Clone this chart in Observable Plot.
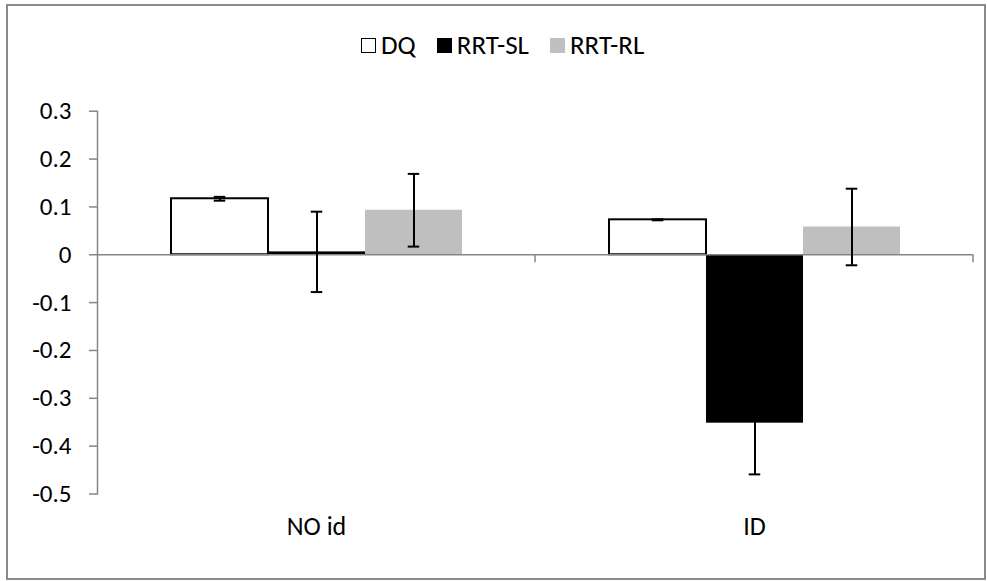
<!DOCTYPE html>
<html>
<head>
<meta charset="utf-8">
<script src="https://cdn.jsdelivr.net/npm/d3@7"></script>
<script src="https://cdn.jsdelivr.net/npm/@observablehq/plot@0.6"></script>
<style>
  body { margin: 0; background: #fff; }
  #wrap { position: relative; width: 987px; height: 581px; font-family: Calibri, Carlito, "Open Sans", sans-serif; color: #000; overflow: hidden; }
  #border { position: absolute; left: 6px; top: 4px; width: 980px; height: 576px; border: 2px solid #898989; box-sizing: border-box; }
  #legend { position: absolute; left: 361px; top: 30px; display: flex; align-items: center; font-size: 27px; line-height: 30px; }
  .item { display: flex; align-items: center; margin-right: 21px; }
  .sw { width: 15px; height: 15px; box-sizing: border-box; margin-right: 5px; }
  #chart { position: absolute; left: 0; top: 60px; }
</style>
</head>
<body>
<div id="wrap">
  <div id="border"></div>
  <div id="legend"></div>
  <div id="chart"></div>
</div>
<script>
const categories = ["NO id", "ID"];
const series = ["DQ", "RRT-SL", "RRT-RL"];
const seriesFill = ["#ffffff", "#000000", "#bfbfbf"];
const seriesOutline = ["#000000", "none", "none"];
// mean values per series, in category order
const dqMean = [0.117, 0.073];
const rrtSlMean = [0.006, -0.352];
const rrtRlMean = [0.093, 0.058];
// error bar half-widths
const dqErr = [0.004, 0.001];
const rrtSlErr = [0.084, 0.107];
const rrtRlErr = [0.076, 0.080];
const yTicks = [0.3, 0.2, 0.1, 0, -0.1, -0.2, -0.3, -0.4, -0.5];

const means = [dqMean, rrtSlMean, rrtRlMean];
const errs = [dqErr, rrtSlErr, rrtRlErr];
const rows = categories.flatMap((c, i) => series.map((s, j) => ({
  category: c, series: s, value: means[j][i], err: errs[j][i]
})));

// legend
const legend = document.getElementById("legend");
series.forEach((s, j) => {
  const it = document.createElement("div");
  it.className = "item";
  const sw = document.createElement("div");
  sw.className = "sw";
  sw.style.background = seriesFill[j];
  if (seriesOutline[j] !== "none") sw.style.border = "1.5px solid " + seriesOutline[j];
  const t = document.createElement("span");
  t.textContent = s;
  it.appendChild(sw); it.appendChild(t);
  legend.appendChild(it);
});

const boundaryTicks = (index, scales) => {
  const g = d3.create("svg:g");
  const xr = scales.x.range();
  const y0 = scales.y(0);
  g.append("line")
    .attr("x1", xr[1]).attr("x2", xr[1])
    .attr("y1", y0).attr("y2", y0 + 8)
    .attr("stroke", "#868686").attr("stroke-width", 1.5);
  return g.node();
};

const chart = Plot.plot({
  width: 987,
  height: 521,
  marginLeft: 96,
  marginRight: 14,
  marginTop: 50.7,
  marginBottom: 87.5,
  style: { fontFamily: 'Calibri, Carlito, "Open Sans", sans-serif', fontSize: "25px", color: "#000", background: "transparent", overflow: "visible" },
  fx: { domain: categories, padding: 0, label: null },
  x: { domain: series, paddingInner: 0, paddingOuter: 0.75, axis: null },
  y: { domain: [-0.5, 0.3] },
  color: { domain: series, range: seriesFill },
  marks: [
    Plot.barY(rows, { fx: "category", x: "series", y: "value", fill: "series", inset: 0 }),
    Plot.barY(rows.filter(d => d.series === "DQ"), { fx: "category", x: "series", y: "value", fill: "none", stroke: "#000", strokeWidth: 2, inset: 0 }),
    Plot.ruleY([0], { stroke: "#868686", strokeWidth: 1.5 }),
    Plot.frame({ anchor: "left", facetAnchor: "left", stroke: "#868686", strokeWidth: 1.5 }),
    boundaryTicks,
    Plot.ruleX(rows, { fx: "category", x: "series", y1: d => d.value - d.err, y2: d => d.value + d.err, stroke: "#000", strokeWidth: 2 }),
    Plot.tickY(rows, { fx: "category", x: "series", y: d => d.value + d.err, stroke: "#000", strokeWidth: 2, insetLeft: 42.75, insetRight: 42.75 }),
    Plot.tickY(rows, { fx: "category", x: "series", y: d => d.value - d.err, stroke: "#000", strokeWidth: 2, insetLeft: 42.75, insetRight: 42.75 }),
    Plot.axisY({ ticks: yTicks, tickFormat: d => d === 0 ? "0" : d.toFixed(1), tickSize: 8, tickPadding: 18, stroke: "#868686", strokeWidth: 1.5, fill: "#000", label: null, fontSize: 25 }),
    Plot.axisFx({ anchor: "bottom", tickSize: 0, tickPadding: 23, fontSize: 26, fill: "#000", label: null })
  ]
});
document.getElementById("chart").appendChild(chart);
</script>
</body>
</html>
